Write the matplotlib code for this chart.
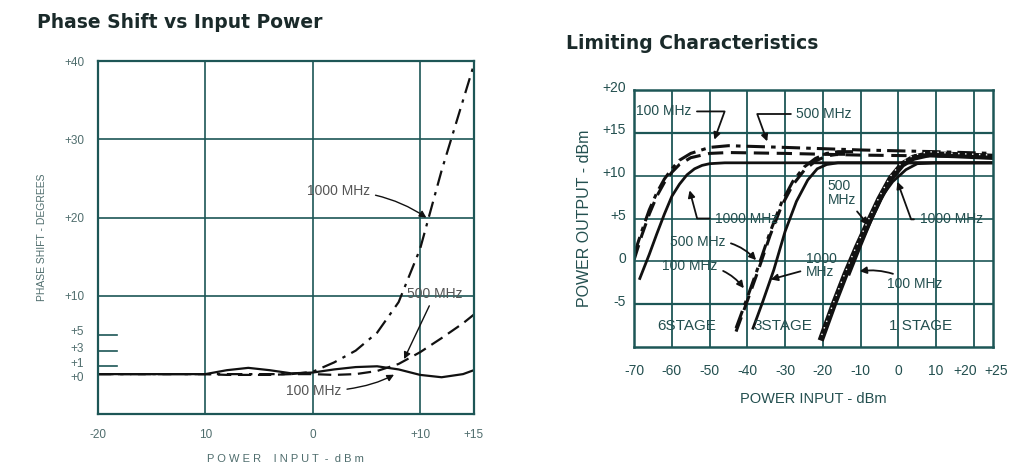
import matplotlib.pyplot as plt
from matplotlib.transforms import ScaledTranslation

# ---- phase shift vs input power ----
ps_x = [-20, -15, -10, -8, -6, -4, -2, 0, 2, 4, 6, 8, 10, 12, 14, 15]
ps_100 = [0, 0, 0, 0.5, 0.8, 0.5, 0.1, 0.2, 0.6, 0.9, 1.0, 0.6, -0.1, -0.4, 0.0, 0.5]
ps_500 = [0, 0, 0, -0.1, -0.1, -0.1, 0, 0, -0.1, 0, 0.4, 1.3, 2.8, 4.6, 6.5, 7.6]
ps_1000 = [0, 0, 0, 0, 0, 0, 0, 0.3, 1.5, 3.0, 5.3, 9.2, 16.0, 26.0, 35.0, 39.5]

ps_xticks = [-20, -10, 0, 10, 15]
ps_xlabels = ['-20', '10', '0', '+10', '+15']
ps_yticks = [0, 1, 3, 5, 10, 20, 30, 40]
ps_ylabels = ['+0', '+1', '+3', '+5', '+10', '+20', '+30', '+40']

# ---- limiting characteristics ----
s6_x_1000 = [-68.5, -66, -64, -62, -60, -58, -56, -54, -52, -50, -46, 25]
s6_1000 = [-2.0, 0.8, 3.2, 5.5, 7.6, 9.0, 10.1, 10.8, 11.2, 11.4, 11.5, 11.5]
s6_x = [-70, -68, -66, -64, -62, -60, -58, -55, -50, -45, -30, -10, 10, 25]
s6_100 = [0.8, 3.5, 6.0, 8.0, 9.6, 10.8, 11.8, 12.6, 13.3, 13.5, 13.3, 13.0, 12.8, 12.6]
s6_500 = [0.2, 3.0, 5.5, 7.6, 9.2, 10.4, 11.3, 12.1, 12.6, 12.7, 12.6, 12.4, 12.3, 12.2]

s3_x_1000 = [-38.5, -36, -33, -30, -27, -24, -21.5, -19, -16, -12, 25]
s3_1000 = [-7.8, -4.8, -1.0, 3.5, 7.0, 9.5, 10.8, 11.3, 11.5, 11.5, 11.5]
s3_x = [-43, -40, -37, -34, -31, -28, -25, -22, -19, -16, -12]
s3_100 = [-7.8, -4.2, -0.5, 3.4, 6.8, 9.3, 11.0, 12.0, 12.6, 12.8, 12.8]
s3_500 = [-8.2, -4.6, -0.9, 3.0, 6.4, 8.9, 10.6, 11.7, 12.3, 12.5, 12.5]

s1_x_1000 = [-13, -10, -7, -4, -1.5, 2, 5, 10, 25]
s1_1000 = [-1.5, 1.8, 5.0, 7.8, 9.3, 10.7, 11.4, 11.5, 11.5]
s1_x = [-20.3, -17, -14, -11, -8, -5, -2, 1, 4, 8, 15, 25]
s1_100 = [-8.6, -4.6, -1.2, 1.9, 4.8, 7.6, 10.0, 11.6, 12.4, 12.8, 12.6, 12.4]
s1_500 = [-8.9, -4.9, -1.5, 1.6, 4.5, 7.3, 9.7, 11.3, 12.1, 12.5, 12.4, 12.2]

lc_xticks = [-70, -60, -50, -40, -30, -20, -10, 0, 10, 20, 25]
lc_xlabels = ['-70', '-60', '-50', '-40', '-30', '-20', '-10', '0', '10', '+20', '+25']
lc_yticks = [-5, 0, 5, 10, 15, 20]
lc_ylabels = ['-5', '0', '+5', '+10', '+15', '+20']
stage_names = ['6STAGE', '3STAGE', '1 STAGE']
stage_x = [-56, -30.5, 6]

plt.rcParams['font.family'] = ['Liberation Sans', 'DejaVu Sans']

GRID = '#1d5656'
INK = '#111111'
TXT = '#234f4f'
GREY = '#4f6d6d'

fig = plt.figure(figsize=(10.13, 4.73), dpi=100)


def shift(label, dx, dy):
    label.set_transform(label.get_transform() + ScaledTranslation(dx / 100, dy / 100, fig.dpi_scale_trans))


# left panel
ax = fig.add_axes([0.0967, 0.1247, 0.371, 0.746])
ax.set_xlim(-20, 15)
ax.set_ylim(-5.1, 40)
for v in [-10, 0, 10]:
    ax.axvline(v, color=GRID, lw=1.2)
for v in [10, 20, 30]:
    ax.axhline(v, color=GRID, lw=1.2)
for v in [1, 3, 5]:
    ax.axhline(v, xmin=0, xmax=0.05, color=GRID, lw=1.2)
for s in ax.spines.values():
    s.set_color(GRID)
    s.set_linewidth(1.6)

ax.plot(ps_x, ps_100, color=INK, lw=1.6)
ax.plot(ps_x, ps_500, color=INK, lw=1.6, dashes=(6, 3))
ax.plot(ps_x, ps_1000, color=INK, lw=1.6, dashes=(7, 3, 1.5, 3))

ax.set_xticks(ps_xticks, ps_xlabels)
ax.set_yticks(ps_yticks, ps_ylabels)
ax.tick_params(length=0, labelsize=8.5, colors=GREY, pad=10)
ax.tick_params(axis='x', pad=11)
ylabs = ax.get_yticklabels()
shift(ylabs[0], 0, -2)
shift(ylabs[1], 0, 4)
shift(ylabs[2], 0, 3)
shift(ylabs[3], 0, 4)
ax.set_xlabel('P O W E R    I N P U T  -  d B m', fontsize=8, color=GREY, labelpad=9)
ax.set_ylabel('PHASE SHIFT - DEGREES', fontsize=7.5, color=GREY, labelpad=12)

arr = dict(arrowstyle='-|>', color=INK, lw=1.0, mutation_scale=10)
ax.annotate('1000 MHz', xy=(10.8, 19.8), xytext=(2.4, 23.4), fontsize=10, color='#555555',
            ha='center', va='center', arrowprops=dict(arr, connectionstyle='angle3,angleA=0,angleB=-35'))
ax.annotate('500 MHz', xy=(8.4, 1.6), xytext=(11.4, 10.3), fontsize=10, color='#555555',
            ha='center', va='center', arrowprops=arr)
ax.annotate('100 MHz', xy=(7.8, 0.1), xytext=(0.1, -2.2), fontsize=10, color='#555555',
            ha='center', va='center', arrowprops=dict(arr, connectionstyle='angle3,angleA=0,angleB=30'))

fig.text(0.037, 0.953, 'Phase Shift vs Input Power', fontsize=13.5, fontweight='bold',
         family='DejaVu Sans', color='#1a2a2a', va='center')

# right panel
bx = fig.add_axes([0.626, 0.2664, 0.354, 0.5433])
bx.set_xlim(-70, 25)
bx.set_ylim(-10, 20)
for v in range(-60, 21, 10):
    bx.axvline(v, color=GRID, lw=1.3)
for v in [-5, 0, 5, 10, 15]:
    bx.axhline(v, color=GRID, lw=1.6 if v in (-5, 15) else 1.2)
for s in bx.spines.values():
    s.set_color(GRID)
    s.set_linewidth(1.8)

solid = dict(color=INK, lw=2.0)
dash = dict(color=INK, lw=2.2, dashes=(5, 2.5))
dashdot = dict(color=INK, lw=2.2, dashes=(6, 2, 1.5, 2))
bx.plot(s6_x_1000, s6_1000, **solid)
bx.plot(s6_x, s6_500, **dash)
bx.plot(s6_x, s6_100, **dashdot)
bx.plot(s3_x_1000, s3_1000, **solid)
bx.plot(s3_x, s3_500, **dash)
bx.plot(s3_x, s3_100, **dashdot)
bx.plot(s1_x_1000, s1_1000, **solid)
bx.plot(s1_x, s1_500, color=INK, lw=4.5)
bx.plot(s1_x, s1_100, color='white', lw=1.0, dashes=(1, 4))

bx.set_xticks(lc_xticks, lc_xlabels)
bx.set_yticks(lc_yticks, lc_ylabels)
bx.tick_params(length=0, labelsize=10, colors=TXT, pad=12)
bx.tick_params(axis='y', pad=6)
for lbl in bx.get_yticklabels():
    shift(lbl, 0, 4)
xl = bx.get_xticklabels()
shift(xl[-2], -9, 0)
shift(xl[-1], 3, 0)
bx.set_xlabel('POWER INPUT - dBm', fontsize=10.5, color=TXT, labelpad=10)
bx.set_ylabel('POWER OUTPUT - dBm', fontsize=11.5, color=TXT, labelpad=7)

arr2 = dict(arrowstyle='-|>', color=INK, lw=1.3, mutation_scale=10)
lab = dict(fontsize=10, color=TXT, va='center', ha='left')
bx.annotate('100 MHz', xy=(-49, 13.9), xytext=(-69.5, 17.5),
            arrowprops=dict(arr2, connectionstyle='angle,angleA=0,angleB=70,rad=0'), **lab)
bx.annotate('500 MHz', xy=(-34.5, 13.7), xytext=(-27, 17.2),
            arrowprops=dict(arr2, connectionstyle='angle,angleA=180,angleB=-70,rad=0'), **lab)
bx.annotate('1000 MHz', xy=(-55.5, 8.6), xytext=(-48.5, 5.0),
            arrowprops=dict(arr2, connectionstyle='angle,angleA=180,angleB=-75,rad=0'), **lab)
bx.annotate('500 MHz', xy=(-37.2, -0.1), xytext=(-60.5, 2.2),
            arrowprops=dict(arr2, connectionstyle='arc3,rad=-0.3'), **lab)
bx.annotate('100 MHz', xy=(-40.5, -3.4), xytext=(-62.5, -0.6),
            arrowprops=dict(arr2, connectionstyle='arc3,rad=-0.3'), **lab)
bx.annotate('1000\nMHz', xy=(-34.5, -2.2), xytext=(-24.5, -0.5),
            arrowprops=dict(arr2, connectionstyle='arc3,rad=0'), linespacing=0.95, **lab)
bx.annotate('500\nMHz', xy=(-7.5, 4.0), xytext=(-18.8, 8.0),
            arrowprops=dict(arr2, connectionstyle='arc3,rad=0'), linespacing=0.95, **lab)
bx.annotate('1000 MHz', xy=(-0.5, 9.6), xytext=(5.6, 4.9),
            arrowprops=dict(arr2, connectionstyle='angle,angleA=180,angleB=-70,rad=0'), **lab)
bx.annotate('100 MHz', xy=(-11, -1.2), xytext=(-3, -2.7),
            arrowprops=dict(arr2, connectionstyle='arc3,rad=0.2'), **lab)
for name, x in zip(stage_names, stage_x):
    bx.text(x, -7.6, name, fontsize=11, color=TXT, ha='center', va='center')

fig.text(0.559, 0.908, 'Limiting Characteristics', fontsize=13.5, fontweight='bold',
         family='DejaVu Sans', color='#1a2a2a', va='center')

fig.savefig('out.png', dpi=100)
